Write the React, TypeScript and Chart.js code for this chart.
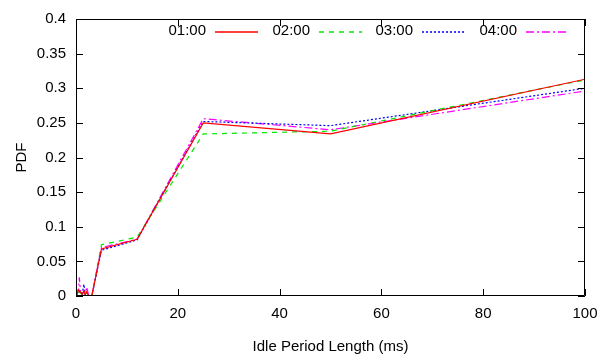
import React, { useEffect, useRef } from "react";
import { Chart, registerables } from "chart.js";

Chart.register(...registerables);

const idleLengthMs = [0, 0.25, 0.5, 0.65, 0.9, 1.2, 1.55, 1.8, 2.1, 2.5, 3.1, 5, 12, 25, 50, 100];
const seriesLabels = ["01:00", "02:00", "03:00", "04:00"];
const pdf0100 = [0.008, 0.003, 0.009, 0.008, 0.005, 0.002, 0.008, 0.002, 0.006, 0, 0, 0.068, 0.082, 0.25, 0.234, 0.313];
const pdf0200 = [0.006, 0.003, 0.007, 0.01, 0.004, 0.002, 0.006, 0.002, 0.005, 0, 0, 0.074, 0.085, 0.234, 0.238, 0.312];
const pdf0300 = [0.01, 0.004, 0.008, 0.006, 0.004, 0.003, 0.017, 0.003, 0.004, 0, 0, 0.066, 0.081, 0.252, 0.246, 0.3];
const pdf0400 = [0.012, 0.006, 0.01, 0.027, 0.006, 0.004, 0.005, 0.003, 0.013, 0, 0, 0.07, 0.082, 0.256, 0.24, 0.296];
const xTicks = [0, 20, 40, 60, 80, 100];
const yTicks = [0, 0.05, 0.1, 0.15, 0.2, 0.25, 0.3, 0.35, 0.4];

const FONT = "'Liberation Sans', Arial, Helvetica, sans-serif";
const COLORS = ["#ff0000", "#00e600", "#0000ff", "#ff00ff"];
const DASHES = [[], [5, 5], [2, 2], [8, 3, 2, 3]];

const gnuplotFrame = {
  id: "gnuplotFrame",
  afterDatasetsDraw(chart: any) {
    const { ctx, chartArea } = chart;
    const { left, right, top, bottom } = chartArea;
    const xs = chart.scales.x;
    const ys = chart.scales.y;
    const tl = 7;
    ctx.save();
    ctx.strokeStyle = "#000";
    ctx.lineWidth = 1;
    ctx.setLineDash([]);
    ctx.beginPath();
    ctx.rect(left + 0.5, top + 0.5, right - left - 1, bottom - top - 1);
    for (const v of xTicks) {
      const px = Math.round(xs.getPixelForValue(v)) + 0.5;
      ctx.moveTo(px, bottom);
      ctx.lineTo(px, bottom - tl);
      ctx.moveTo(px, top);
      ctx.lineTo(px, top + tl);
    }
    for (const v of yTicks) {
      const py = Math.round(ys.getPixelForValue(v)) + 0.5;
      ctx.moveTo(left, py);
      ctx.lineTo(left + tl, py);
      ctx.moveTo(right, py);
      ctx.lineTo(right - tl, py);
    }
    ctx.stroke();
    ctx.restore();
  },
  afterDraw(chart: any) {
    const ctx = chart.ctx;
    ctx.save();
    ctx.font = `15px ${FONT}`;
    ctx.textAlign = "right";
    ctx.textBaseline = "middle";
    const ly = 31;
    const textRights = [206, 310, 413, 517];
    for (let i = 0; i < seriesLabels.length; i++) {
      const tr = textRights[i];
      ctx.fillStyle = "#000000";
      ctx.fillText(seriesLabels[i], tr, ly);
    }
    for (let i = 0; i < seriesLabels.length; i++) {
      const tr = textRights[i];
      ctx.beginPath();
      ctx.setLineDash(DASHES[i]);
      ctx.lineWidth = 1.3;
      ctx.strokeStyle = COLORS[i];
      ctx.moveTo(tr + 9, ly + 1);
      ctx.lineTo(tr + 52, ly + 1);
      ctx.stroke();
    }
    ctx.restore();
  },
};

export default function App() {
  const ref = useRef<HTMLCanvasElement>(null);
  useEffect(() => {
    if (!ref.current) return;
    const series = [pdf0100, pdf0200, pdf0300, pdf0400];
    const chart = new Chart(ref.current, {
      type: "line",
      data: {
        datasets: series.map((s, i) => ({
          label: seriesLabels[i],
          data: s.map((y, j) => ({ x: idleLengthMs[j], y })),
          borderColor: COLORS[i],
          backgroundColor: COLORS[i],
          borderWidth: 1.2,
          borderDash: DASHES[i],
          pointRadius: 0,
          tension: 0,
          fill: false,
        })),
      },
      options: {
        responsive: false,
        animation: false,
        layout: { padding: { left: 0, right: 28, top: 14, bottom: 0 } },
        plugins: { legend: { display: false }, tooltip: { enabled: false } },
        scales: {
          x: {
            type: "linear",
            min: 0,
            max: 100,
            afterFit: (s: any) => { s.height = 62; },
            afterBuildTicks: (s: any) => { s.ticks = xTicks.map((v) => ({ value: v })); },
            grid: { display: false, drawTicks: false },
            border: { display: false },
            ticks: { padding: 9, color: "#000", font: { family: FONT, size: 15 } },
            title: { display: true, text: "Idle Period Length (ms)", color: "#000", font: { family: FONT, size: 15 }, padding: { top: 0, bottom: 2 } },
          },
          y: {
            type: "linear",
            min: 0,
            max: 0.4,
            afterFit: (s: any) => { s.width = 76; },
            afterBuildTicks: (s: any) => { s.ticks = yTicks.map((v) => ({ value: v })); },
            grid: { display: false, drawTicks: false },
            border: { display: false },
            ticks: {
              padding: 10,
              color: "#000",
              font: { family: FONT, size: 15 },
              callback: (v: any) => String(Number(Number(v).toFixed(2))),
            },
            title: { display: true, text: "PDF", color: "#000", font: { family: FONT, size: 15 }, padding: { top: 13, bottom: 0 } },
          },
        },
      },
      plugins: [gnuplotFrame],
    });
    return () => chart.destroy();
  }, []);
  return (
    <div style={{ position: "fixed", left: 0, top: 0, width: 613, height: 358, background: "#fff" }}>
      <canvas ref={ref} width={613} height={358} />
    </div>
  );
}
